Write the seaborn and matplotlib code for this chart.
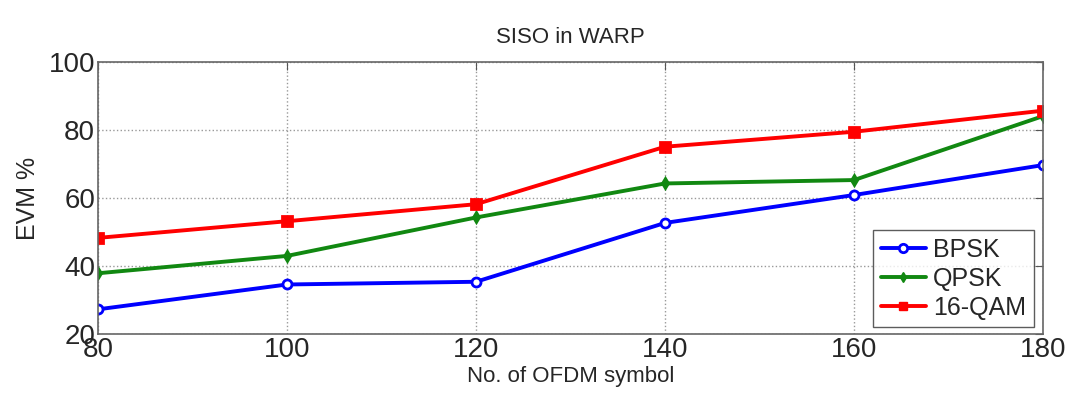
import matplotlib
matplotlib.use("Agg")
import matplotlib.pyplot as plt
from matplotlib.lines import Line2D
import pandas as pd
import seaborn as sns

symbols = [80, 100, 120, 140, 160, 180]
bpsk = [27.3, 34.6, 35.4, 52.7, 60.9, 69.7]
qpsk = [37.9, 43.0, 54.3, 64.3, 65.3, 84.1]
qam16 = [48.3, 53.2, 58.2, 75.1, 79.5, 85.7]
series_names = ["BPSK", "QPSK", "16-QAM"]

df = pd.DataFrame({
    "symbols": symbols * 3,
    "evm": bpsk + qpsk + qam16,
    "scheme": [n for n in series_names for _ in symbols],
})

sns.set_style("white")
plt.rcParams["font.family"] = ["Liberation Sans", "DejaVu Sans"]

fig = plt.figure(figsize=(10.69, 4.08), dpi=100)
ax = fig.add_axes([0.0917, 0.181, 0.884, 0.667])

palette = {"BPSK": "#0000ff", "QPSK": "#118811", "16-QAM": "#ff0000"}
markers = {"BPSK": "o", "QPSK": "d", "16-QAM": "s"}
sns.lineplot(data=df, x="symbols", y="evm", hue="scheme", style="scheme",
             palette=palette, markers=markers, dashes=False, linewidth=2.8,
             markersize=6.5, ax=ax, legend=False)

# matlab look: marker edges in line colour, hollow circles for BPSK
for line in ax.get_lines():
    c = line.get_color()
    line.set_markeredgecolor(c)
    line.set_markeredgewidth(2)
    if line.get_marker() == "o":
        line.set_markerfacecolor("white")
    else:
        line.set_markerfacecolor(c)
    if line.get_marker() == "d":
        line.set_markersize(5)

ax.set_xlim(80, 180)
ax.set_ylim(20, 100)
ax.set_xticks(symbols)
ax.set_yticks([20, 40, 60, 80, 100])
ax.grid(True, linestyle=":", color="#999999", linewidth=1)
ax.tick_params(direction="in", length=6, labelsize=20, top=True, right=True,
               color="#555555", pad=2)
for s in ax.spines.values():
    s.set_color("#666666")
    s.set_linewidth(1.2)

ax.set_title("SISO in WARP", fontsize=16, pad=14)
ax.set_xlabel("No. of OFDM symbol", fontsize=16, labelpad=2)
ax.set_ylabel("EVM %", fontsize=18, labelpad=6)

handles = [
    Line2D([], [], color=palette["BPSK"], marker="o", markerfacecolor="white",
           markeredgecolor=palette["BPSK"], markeredgewidth=2, lw=2.8, ms=6),
    Line2D([], [], color=palette["QPSK"], marker="d", markeredgecolor=palette["QPSK"],
           lw=2.8, ms=5),
    Line2D([], [], color=palette["16-QAM"], marker="s", markeredgecolor=palette["16-QAM"],
           lw=2.8, ms=6),
]
leg = ax.legend(handles, series_names, loc="lower right",
                bbox_to_anchor=(0.99, 0.025), fontsize=18, frameon=True,
                fancybox=False, handlelength=1.8, handletextpad=0.3,
                labelspacing=0.2, borderpad=0.3, borderaxespad=0)
leg.get_frame().set_edgecolor("#333333")
leg.get_frame().set_linewidth(1)

plt.savefig("out.png", dpi=100)
plt.close()
